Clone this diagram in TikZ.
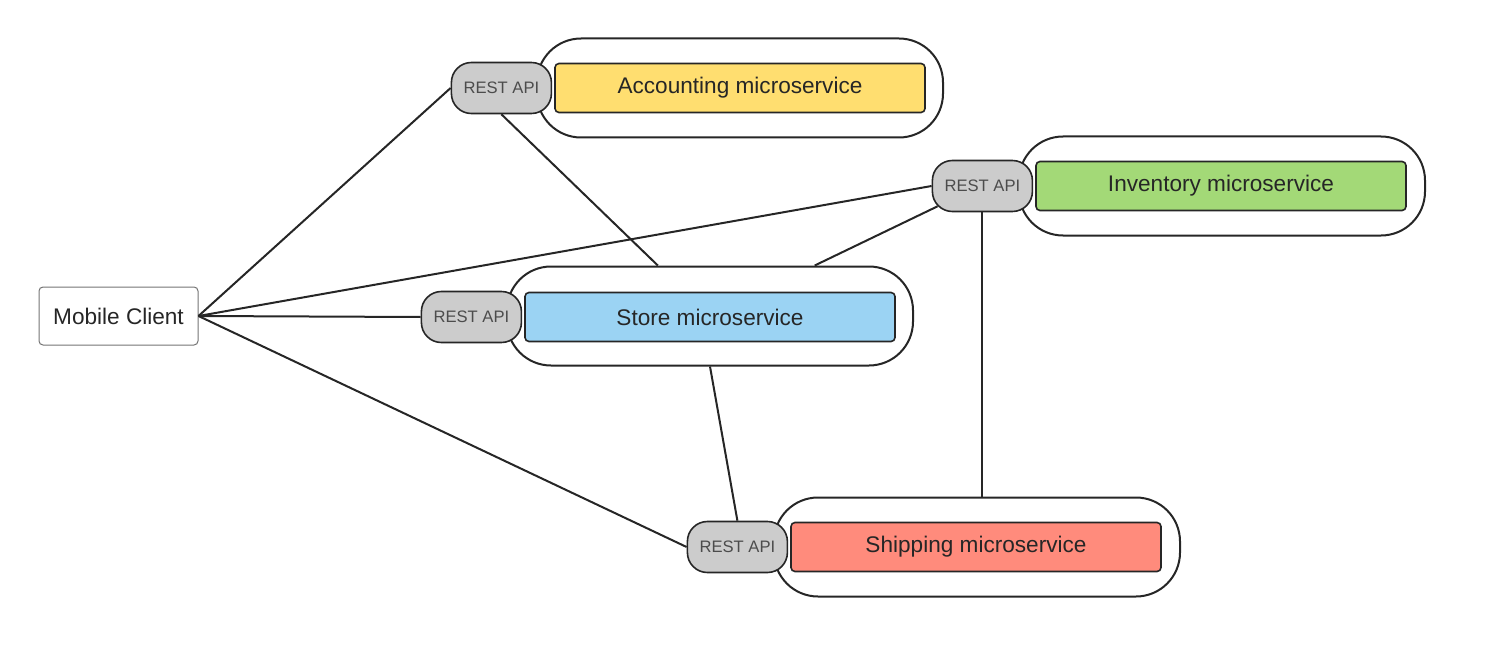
\documentclass[tikz,border=0pt]{standalone}
\usepackage{fontspec}
\setmainfont{Liberation Sans}
\usetikzlibrary{positioning}
\definecolor{accyellow}{HTML}{FFDE70}
\definecolor{invgreen}{HTML}{A3D977}
\definecolor{storeblue}{HTML}{9BD3F3}
\definecolor{shipred}{HTML}{FF8B7C}
\definecolor{apigray}{HTML}{CCCCCC}
\tikzset{
  svcouter/.style={draw=black!85, line width=1pt, fill=white, rounded corners=22pt, minimum width=203pt, minimum height=49.5pt, inner sep=0pt},
  svcbox/.style={draw=black!85, line width=0.8pt, rounded corners=2pt, minimum width=185pt, minimum height=24.5pt, inner sep=0pt, font=\fontsize{11.3}{13}\selectfont, text=black!85},
  restapi/.style={draw=black!85, line width=0.8pt, fill=apigray, rounded corners=10pt, minimum width=50pt, minimum height=25.5pt, inner sep=0pt, font=\fontsize{8.3}{10}\selectfont, text=black!70},
  client/.style={draw=black!55, line width=0.5pt, rounded corners=2pt, minimum width=79.5pt, minimum height=29pt, inner sep=0pt, font=\fontsize{11.3}{13}\selectfont, text=black!85},
  link/.style={draw=black!85, line width=1pt}
}
\begin{document}
\begin{tikzpicture}[x=0.5pt,y=-0.5pt]
\useasboundingbox (0,0) rectangle (1488,658);
\node[client] (mob) at (118.5,316){Mobile Client};
\node[svcouter] (acc) at (740,88){};
\node[svcbox, fill=accyellow] (accbox) at (740,88){Accounting microservice};
\node[restapi, left=1pt of accbox] (accapi){REST API};
\node[svcouter] (inv) at (1222,186){};
\node[svcbox, fill=invgreen] (invbox) at (1221,186){Inventory microservice};
\node[restapi, left=1pt of invbox] (invapi){REST API};
\node[svcouter] (store) at (710,316){};
\node[svcbox, fill=storeblue] (storebox) at (710,317){Store microservice};
\node[restapi, left=1pt of storebox] (storeapi){REST API};
\node[svcouter] (ship) at (977,547){};
\node[svcbox, fill=shipred] (shipbox) at (976,547){Shipping microservice};
\node[restapi, left=1pt of shipbox] (shipapi){REST API};
\draw[link](mob.east) -- (accapi.west);
\draw[link](mob.east) -- (invapi.west);
\draw[link](mob.east) -- (storeapi.west);
\draw[link](mob.east) -- (shipapi.west);
\draw[link](accapi.south) -- (store);
\draw[link]([xshift=3pt,yshift=3pt]invapi.south west) -- (store);
\draw[link](invapi.south) -- (invapi.south |- ship.north);
\draw[link](store.south) -- (shipapi.north);
\end{tikzpicture}
\end{document}
